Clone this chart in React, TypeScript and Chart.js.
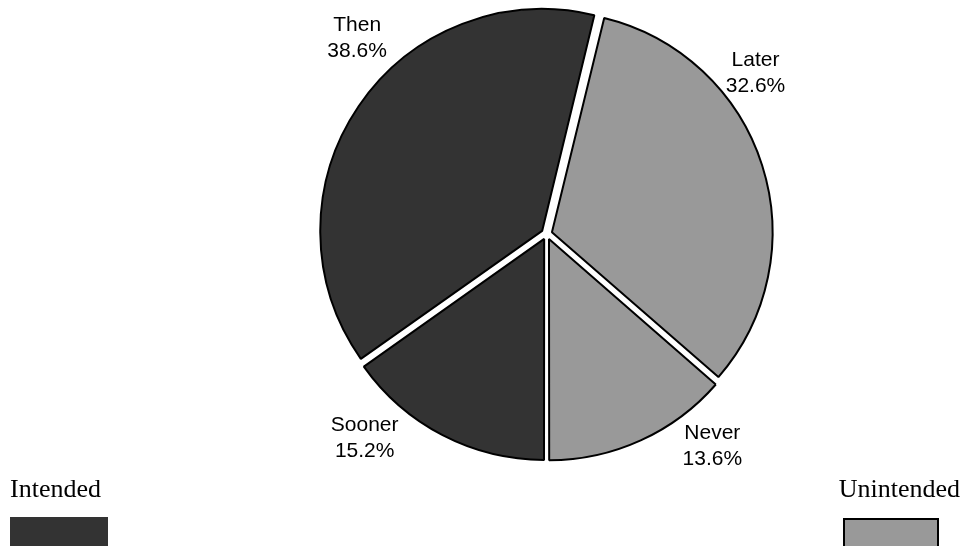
import { useEffect, useRef } from "react";
import { Chart, registerables } from "chart.js";

Chart.register(...registerables);

// Data
const categories = ["Sooner", "Then", "Later", "Never"];
const shares = [15.2, 38.6, 32.6, 13.6];
const sliceColors = ["#333333", "#333333", "#999999", "#999999"];
const legendGroups = ["Intended", "Unintended"];
const legendColors = ["#333333", "#999999"];

// Label placement tweaks (degrees from slice middle, radius factor)
const labelAngleShift = [14.7, 12, -20.4, -13.8];
const labelRadiusFactor = [1.235, 1.245, 1.205, 1.215];

const sliceLabels = {
  id: "sliceLabels",
  afterDatasetsDraw(chart: any) {
    const ctx = chart.ctx as CanvasRenderingContext2D;
    const meta = chart.getDatasetMeta(0);
    ctx.save();
    ctx.font = "21px 'Liberation Sans', Arial, sans-serif";
    ctx.fillStyle = "#000000";
    ctx.textAlign = "center";
    ctx.textBaseline = "alphabetic";
    meta.data.forEach((arc: any, i: number) => {
      const p = arc.getProps(["x", "y", "startAngle", "endAngle", "outerRadius"], true);
      const mid = (p.startAngle + p.endAngle) / 2 + (labelAngleShift[i] * Math.PI) / 180;
      const r = p.outerRadius * labelRadiusFactor[i];
      const lx = p.x + Math.cos(mid) * r;
      const ly = p.y + Math.sin(mid) * r;
      ctx.fillText(categories[i], lx, ly - 5);
      ctx.fillText(shares[i].toFixed(1) + "%", lx, ly + 21);
    });
    ctx.restore();
  },
};

export default function App() {
  const canvasRef = useRef<HTMLCanvasElement | null>(null);

  useEffect(() => {
    if (!canvasRef.current) return;
    const chart = new Chart(canvasRef.current, {
      type: "pie",
      data: {
        labels: categories,
        datasets: [
          {
            data: shares,
            backgroundColor: sliceColors,
            borderColor: "#000000",
            borderWidth: 2,
            offset: 22,
            radius: 220,
          } as any,
        ],
      },
      options: {
        animation: false,
        responsive: false,
        rotation: 180,
        events: [],
        layout: { padding: { left: 300, right: 168.6, top: 4, bottom: 82 } },
        plugins: {
          legend: { display: false },
          tooltip: { enabled: false },
        },
      },
      plugins: [sliceLabels],
    });
    return () => chart.destroy();
  }, []);

  return (
    <div
      style={{
        position: "fixed",
        left: 0,
        top: 0,
        width: 962,
        height: 546,
        overflow: "hidden",
        background: "#ffffff",
      }}
    >
      <canvas ref={canvasRef} width={962} height={546} style={{ display: "block" }} />
      <div
        style={{
          position: "absolute",
          left: 10,
          top: 476,
          font: "26px 'Liberation Serif', 'Times New Roman', serif",
          lineHeight: "26px",
          color: "#000",
          whiteSpace: "nowrap",
        }}
      >
        {legendGroups[0]}
      </div>
      <div
        style={{
          position: "absolute",
          left: 10,
          top: 517,
          width: 98,
          height: 40,
          background: legendColors[0],
        }}
      />
      <div
        style={{
          position: "absolute",
          right: 2,
          top: 476,
          font: "26px 'Liberation Serif', 'Times New Roman', serif",
          lineHeight: "26px",
          color: "#000",
          whiteSpace: "nowrap",
        }}
      >
        {legendGroups[1]}
      </div>
      <div
        style={{
          position: "absolute",
          left: 843,
          top: 518,
          width: 96,
          height: 40,
          boxSizing: "border-box",
          border: "2px solid #000",
          background: legendColors[1],
        }}
      />
    </div>
  );
}
